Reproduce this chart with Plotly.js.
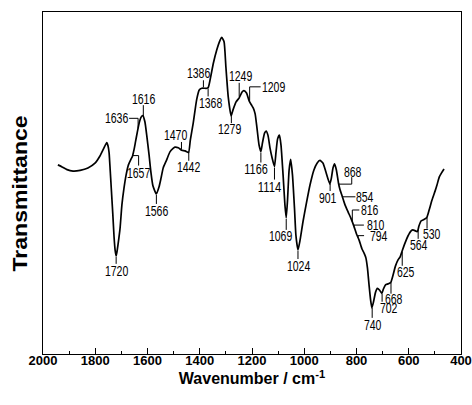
<!DOCTYPE html>
<html><head><meta charset="utf-8">
<script src="https://cdn.plot.ly/plotly-3.0.1.min.js"></script>
<style>html,body{margin:0;padding:0;background:#fff}</style>
</head><body><div id="chart" style="width:472px;height:405px"></div>
<script>
// FTIR spectrum (arbitrary transmittance units)
const wavenumber = [1943,1927,1908,1885,1858,1828,1801,1782,1767,1756,1751,1747,1744,1741,1736,1733,1728,1724,1720,1717,1713,1705,1698,1690,1682,1673,1663,1658,1652,1646,1639,1631,1625,1618,1610,1603,1594,1587,1579,1566,1556,1548,1540,1527,1514,1502,1495,1482,1469,1456,1443,1436,1425,1412,1402,1392,1373,1367,1358,1348,1335,1322,1316,1307,1300,1291,1280,1273,1261,1249,1238,1231,1221,1211,1202,1195,1188,1181,1173,1166,1160,1152,1146,1139,1131,1123,1114,1108,1102,1095,1089,1081,1074,1069,1064,1058,1052,1045,1037,1032,1024,1016,1005,993,978,963,951,940,928,917,902,896,890,884,877,869,863,855,844,832,822,810,800,790,779,771,764,758,752,746,741,735,727,720,712,703,697,689,679,669,660,651,641,633,624,614,603,591,584,567,561,553,542,531,522,511,499,492,483,475,465];
const transmittance = [55.3,54.7,53.9,53.5,53.7,54.4,55.8,57.9,60.2,61.8,60.8,58.8,55.3,51.5,45.0,41.2,34.2,30.4,28.7,29.8,31.9,36.8,43.6,48.5,52.3,55.3,57.0,57.7,59.6,62.0,64.9,67.8,69.2,69.7,67.9,64.0,58.2,53.2,49.1,46.8,48.8,51.5,54.4,56.7,59.1,60.1,60.5,60.3,59.6,59.4,58.9,62.6,67.5,74.3,77.2,77.7,77.7,78.0,81.1,85.0,88.9,91.8,92.6,91.3,84.0,75.2,69.6,71.3,73.7,74.9,76.6,77.0,76.3,74.0,72.8,71.9,70.2,66.1,61.1,59.2,61.7,64.6,65.2,64.0,60.2,57.3,54.8,59.1,62.9,64.0,61.1,52.3,43.6,39.8,45.0,53.8,56.9,52.3,42.1,34.8,30.4,33.3,38.6,43.6,49.4,53.8,55.8,56.6,55.8,53.2,49.7,51.5,54.4,55.6,53.8,50.0,48.0,46.2,43.6,41.5,39.8,37.4,35.1,33.3,30.7,29.5,28.1,25.1,20.2,15.8,13.5,15.2,18.1,19.2,18.7,17.7,19.0,20.2,20.5,20.9,23.1,25.7,27.5,28.4,30.4,32.5,34.5,36.0,36.3,35.8,37.4,38.9,39.3,39.9,42.1,45.0,47.7,49.4,51.8,52.9,54.1];
const peakLabels = [1720,1657,1636,1616,1566,1470,1442,1386,1368,1279,1249,1209,1166,1114,1069,1024,901,868,854,816,810,794,740,702,668,625,564,530];
const xTickVals = [2000,1800,1600,1400,1200,1000,800,600,400];
const xTickText = ['2000','1800','1600','1400','1200','1000','800','600','400'];

// label placement (screen pixel offsets from the curve point; y down)
const labelStyle = {
  1720:{lead:[[0,1],[0,8]], t:[0.5,15]},
  1657:{lead:[[0,0],[6,0],[6,10]], t:[6,17]},
  1636:{lead:[[0,0],[0,-10],[-9,-10]], t:[-22,-10]},
  1616:{lead:[[0,-1],[0,-12]], t:[0,-18]},
  1566:{lead:[[0,1],[0,10]], t:[0.5,17.5]},
  1470:{lead:[[0,-1],[0,-8]], t:[-5.5,-15]},
  1442:{lead:[[0,1],[0,10]], t:[0,16.5]},
  1386:{lead:[[0,-1],[0,-8]], t:[-5,-15]},
  1368:{lead:[[0,1],[0,9]], t:[2,16]},
  1279:{lead:[[0,1],[0,8]], t:[-1.5,14]},
  1249:{lead:[[0,-1],[0,-15]], t:[1,-21.5]},
  1209:{lead:[[0,-1],[0,-15],[11,-15]], t:[24,-15]},
  1166:{lead:[[0,1],[0,11]], t:[-4.5,17.5]},
  1114:{lead:[[0,1],[0,13]], t:[-5,20]},
  1069:{lead:[[0,1],[0,12]], t:[-6,18]},
  1024:{lead:[[0,1],[0,9]], t:[0.5,15.5]},
  901:{lead:[[0,1],[0,8]], t:[-2,15]},
  868:{lead:[[0,0],[13,0],[13,-7]], t:[14.5,-12.5]},
  854:{lead:[[0,0],[13,0]], t:[23,0]},
  816:{lead:[[0,0],[0,-12],[7,-12]], t:[18,-12]},
  810:{lead:[[0,0],[0,-1],[10,-1]], t:[22,-1]},
  794:{lead:[[0,0],[0,-2],[6,-2]], t:[21,-2]},
  740:{lead:[[0,1],[0,11]], t:[0.5,18]},
  702:{lead:[[0,1],[0,9]], t:[6.5,15.5]},
  668:{lead:[[0,1],[0,12]], t:[3,17]},
  625:{lead:[[0,1],[0,15]], t:[4,21]},
  564:{lead:[[0,1],[0,10]], t:[1,16]},
  530:{lead:[[0,1],[0,12]], t:[4.5,17]}
};

function curveAt(w){
  for(let i=0;i<wavenumber.length-1;i++){
    const a=wavenumber[i], b=wavenumber[i+1];
    if(w<=a && w>=b){
      const f=(a===b)?0:(a-w)/(a-b);
      return transmittance[i]+f*(transmittance[i+1]-transmittance[i]);
    }
  }
  return transmittance[transmittance.length-1];
}

const labelFont = {family:'"Liberation Sans",Arial,sans-serif', size:14, color:'#000'};
const shapes=[], annotations=[];
peakLabels.forEach(w=>{
  const s=labelStyle[w]; const yv=curveAt(w);
  const path = s.lead.map((p,i)=>(i===0?'M':'L')+p[0]+','+(-p[1])).join(' ');
  shapes.push({type:'path', xref:'x', yref:'y', xsizemode:'pixel', ysizemode:'pixel',
    xanchor:w, yanchor:yv, path:path, line:{color:'#000', width:1}});
  annotations.push({x:w, y:yv, xref:'x', yref:'y', text:String(w), showarrow:false,
    xshift:s.t[0], yshift:-s.t[1], xanchor:'center', yanchor:'middle', font:labelFont});
});
annotations.push({xref:'paper', yref:'paper', x:-0.055, y:0.47, text:'Transmittance', textangle:-90,
  showarrow:false, xanchor:'center', yanchor:'middle',
  font:{family:'"Liberation Sans",Arial,sans-serif', size:20, weight:'bold', color:'#000'}});

const trace = {x:wavenumber, y:transmittance, type:'scatter', mode:'lines',
  line:{color:'#000', width:1.7, shape:'spline', smoothing:0.5}, hoverinfo:'skip'};

const layout = {
  width:472, height:405, margin:{l:43, r:11, t:12, b:51},
  paper_bgcolor:'#fff', plot_bgcolor:'#fff', showlegend:false,
  font:{family:'"Liberation Sans",Arial,sans-serif', color:'#000'},
  xaxis:{range:[2000,400], tickmode:'array', tickvals:xTickVals, ticktext:xTickText,
    ticks:'inside', ticklen:6, tickwidth:1, tickcolor:'#000', ticklabelstandoff:-6,
    minor:{ticks:'inside', ticklen:3, tickwidth:1, tickcolor:'#000', dtick:100, showgrid:false},
    showline:true, linecolor:'#000', linewidth:1, mirror:true, showgrid:false, zeroline:false,
    tickfont:{size:13, weight:'bold', color:'#000'},
    title:{text:'Wavenumber / cm<sup>-1</sup>', font:{size:16, weight:'bold', color:'#000'}, standoff:4}},
  yaxis:{range:[0,100], showticklabels:false, ticks:'', showline:true, linecolor:'#000', linewidth:1,
    mirror:true, showgrid:false, zeroline:false},
  shapes:shapes, annotations:annotations
};
Plotly.newPlot('chart',[trace],layout,{displayModeBar:false, staticPlot:true}).then(()=>{
  // match the reference's narrow peak labels and wide axis title
  document.querySelectorAll('#chart .annotation-text').forEach(t=>{
    const s=t.textContent;
    if(/^\d+$/.test(s)){
      t.setAttribute('textLength', (s.length*5.85).toFixed(1));
      t.setAttribute('lengthAdjust','spacingAndGlyphs');
    } else if(s==='Transmittance'){
      t.setAttribute('textLength', '156');
      t.setAttribute('lengthAdjust','spacingAndGlyphs');
    }
  });
});
</script></body></html>
